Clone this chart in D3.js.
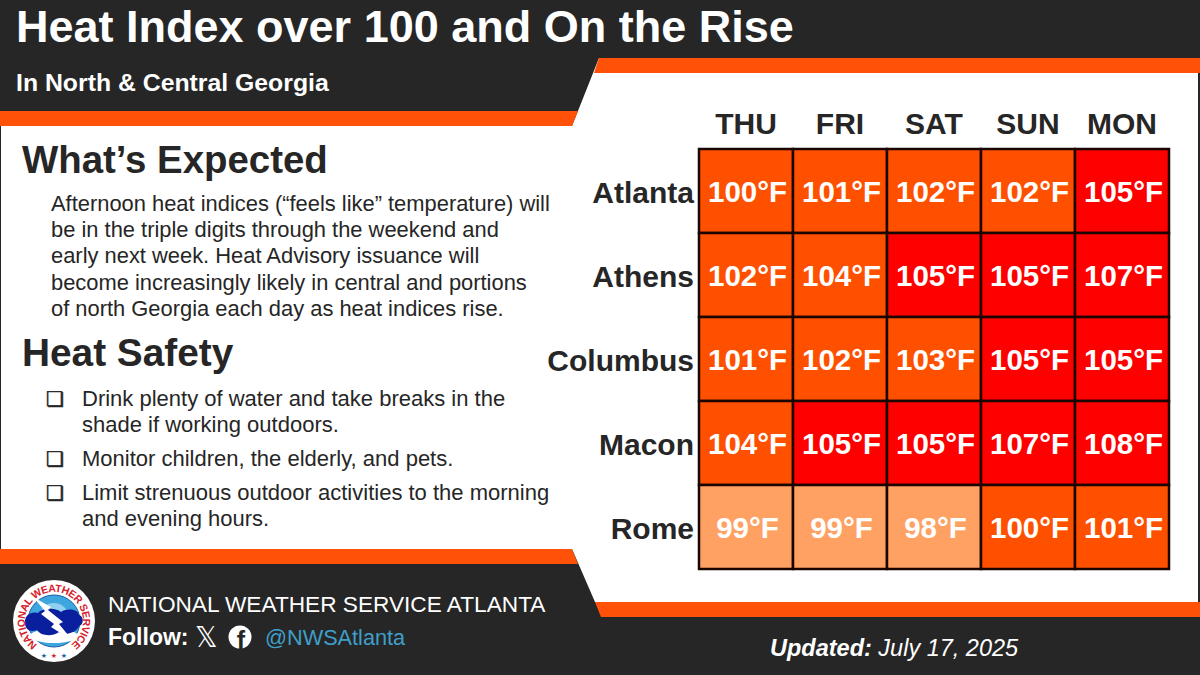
<!DOCTYPE html>
<html>
<head>
<meta charset="utf-8">
<script src="https://cdn.jsdelivr.net/npm/d3@7"></script>
<style>
html, body { margin: 0; padding: 0; background: #262626; }
svg { display: block; font-family: "Liberation Sans", Arial, sans-serif; }
</style>
</head>
<body>
<svg width="1200" height="675"></svg>
<script>
const days = ["THU", "FRI", "SAT", "SUN", "MON"];
const cities = ["Atlanta", "Athens", "Columbus", "Macon", "Rome"];
const atlanta = [100, 101, 102, 102, 105];
const athens = [102, 104, 105, 105, 107];
const columbus = [101, 102, 103, 105, 105];
const macon = [104, 105, 105, 107, 108];
const rome = [99, 99, 98, 100, 101];
const heatRows = [atlanta, athens, columbus, macon, rome];

const expectedLines = [
    "Afternoon heat indices (\u201Cfeels like\u201D temperature) will",
    "be in the triple digits through the weekend and",
    "early next week. Heat Advisory issuance will",
    "become increasingly likely in central and portions",
    "of north Georgia each day as heat indices rise."
];
const safetyItems = [
    ["Drink plenty of water and take breaks in the", "shade if working outdoors."],
    ["Monitor children, the elderly, and pets."],
    ["Limit strenuous outdoor activities to the morning", "and evening hours."]
];

const DARK = "#262626";
const ORANGE = "#ff5208";
const svg = d3.select("svg");

const color = d3.scaleThreshold()
    .domain([100, 105])
    .range(["#ffa163", "#ff5000", "#ff0000"]);

function poly(points, fill) {
    svg.append("polygon")
        .attr("points", points.map(p => p.join(",")).join(" "))
        .attr("fill", fill);
}

function label(x, y, str, size, opts) {
    opts = opts || {};
    return svg.append("text")
        .attr("x", x)
        .attr("y", y)
        .attr("font-size", size)
        .attr("font-weight", opts.weight || "normal")
        .attr("font-style", opts.style || "normal")
        .attr("text-anchor", opts.anchor || "start")
        .attr("fill", opts.fill || DARK)
        .text(str);
}

// background panel and the slanted bands
svg.append("rect").attr("width", 1200).attr("height", 675).attr("fill", DARK);
poly([[1, 126], [572, 126], [599, 58], [1198, 58], [1198, 602], [595, 602], [572, 549], [1, 549]], "#ffffff");
poly([[599, 58], [1200, 58], [1200, 73], [594, 73]], ORANGE);
poly([[0, 111], [578, 111], [572, 126], [0, 126]], ORANGE);
poly([[0, 549], [572, 549], [578, 564], [0, 564]], ORANGE);
poly([[595, 602], [1200, 602], [1200, 617], [601, 617]], ORANGE);

// header
label(16, 42, "Heat Index over 100 and On the Rise", 45, {weight: "bold", fill: "#fff"});
label(16, 91, "In North & Central Georgia", 24.8, {weight: "bold", fill: "#fff"});

// left column
label(22, 173, "What\u2019s Expected", 38.4, {weight: "bold"});
expectedLines.forEach((line, i) => label(51, 211 + i * 26.2, line, 21.9));

label(22, 366, "Heat Safety", 38.8, {weight: "bold"});
let itemY = 406;
safetyItems.forEach(item => {
    label(46, itemY, "\u274F", 20)
        .attr("font-family", "DejaVu Sans")
        .attr("stroke", DARK)
        .attr("stroke-width", 0.6);
    item.forEach((line, i) => label(82, itemY + i * 26, line, 22));
    itemY += item.length * 26 + 8;
});

// table
const x = d3.scaleBand().domain(days).range([699, 1169]);
const y = d3.scaleBand().domain(cities).range([149, 569]);

const cells = [];
cities.forEach((city, r) => {
    days.forEach((day, c) => cells.push({city: city, day: day, value: heatRows[r][c]}));
});

svg.append("g").selectAll("rect")
    .data(cells)
    .join("rect")
    .attr("x", d => x(d.day))
    .attr("y", d => y(d.city))
    .attr("width", x.bandwidth())
    .attr("height", y.bandwidth())
    .attr("fill", d => color(d.value))
    .attr("stroke", "#1a0500")
    .attr("stroke-width", 2.5);

svg.append("g").selectAll("text")
    .data(cells)
    .join("text")
    .attr("x", d => x(d.day) + x.bandwidth() / 2 + 1.5)
    .attr("y", d => y(d.city) + y.bandwidth() / 2 + 11)
    .attr("text-anchor", "middle")
    .attr("font-size", 29.5)
    .attr("font-weight", "bold")
    .attr("fill", "#fff")
    .text(d => d.value + "\u00B0F");

const dayAxis = svg.append("g")
    .attr("transform", "translate(0,149)")
    .call(d3.axisTop(x).tickSize(0).tickPadding(15));
const cityAxis = svg.append("g")
    .attr("transform", "translate(699,2)")
    .call(d3.axisLeft(y).tickSize(0).tickPadding(5));
[dayAxis, cityAxis].forEach(a => {
    a.select(".domain").remove();
    a.selectAll("text")
        .attr("font-family", "Liberation Sans")
        .attr("font-size", 30)
        .attr("font-weight", "bold")
        .attr("fill", DARK);
});

// footer
label(108, 612, "NATIONAL WEATHER SERVICE ATLANTA", 22.65, {fill: "#fff"});
label(108, 645, "Follow:", 23, {weight: "bold", fill: "#fff"});
label(195, 647, "\uD835\uDD4F", 28, {fill: "#fff"}).attr("font-family", "DejaVu Sans");
svg.append("circle").attr("cx", 240).attr("cy", 637).attr("r", 11.5).attr("fill", "#fff");
label(241, 648.5, "f", 25, {weight: "bold", anchor: "middle", fill: DARK});
label(265, 645, "@NWSAtlanta", 21.7, {fill: "#3f9fc9"});

const updated = label(770, 656, "", 23.5, {fill: "#fff", style: "italic"});
updated.append("tspan").attr("font-weight", "bold").text("Updated:");
updated.append("tspan").text(" July 17, 2025");

// NWS logo
const logo = svg.append("g").attr("transform", "translate(54,621)");
logo.append("circle").attr("r", 41).attr("fill", "#fff");
logo.append("circle").attr("r", 26).attr("fill", "#3ea6de").attr("stroke", "#1c5fa8").attr("stroke-width", 1);
logo.append("circle").attr("r", 15).attr("cy", -3).attr("fill", "#8fd0f0");
logo.append("ellipse").attr("cx", 0).attr("cy", 15).attr("rx", 24).attr("ry", 7).attr("fill", "#fff");
logo.append("path")
    .attr("d", "M-29,2 C-30,-7 -21,-10 -16,-8 C-11,-14 3,-13 7,-9 C13,-13 24,-12 25,-6 C30,-5 30,4 25,5 C23,12 10,15 5,11 C-2,16 -13,15 -17,9 C-24,12 -29,8 -29,2 Z")
    .attr("fill", "#0a1f9e");
logo.append("path")
    .attr("d", "M-21,-24 L-3,-14 L-6,-11 L9,1 L5,3 L19,20 L-3,6 L0,3 L-13,-7 L-9,-10 Z")
    .attr("fill", "#fff");
logo.append("path").attr("id", "logoRing").attr("fill", "none")
    .attr("d", "M-16.6,23.8 A29,29 0 1 1 16.6,23.8");
logo.append("text")
    .attr("font-size", 10.5)
    .attr("font-weight", "bold")
    .attr("fill", "#d6202a")
    .append("textPath")
    .attr("href", "#logoRing")
    .attr("textLength", 146)
    .attr("lengthAdjust", "spacing")
    .text("NATIONAL WEATHER SERVICE");
[["\u2605", 0, "#d6202a"], ["\u2605", -10, "#1c5fa8"], ["\u2605", 10, "#1c5fa8"]].forEach(s => {
    logo.append("text")
        .attr("x", s[1])
        .attr("y", 37)
        .attr("text-anchor", "middle")
        .attr("font-family", "DejaVu Sans")
        .attr("font-size", 7)
        .attr("fill", s[2])
        .text(s[0]);
});
</script>
</body>
</html>
